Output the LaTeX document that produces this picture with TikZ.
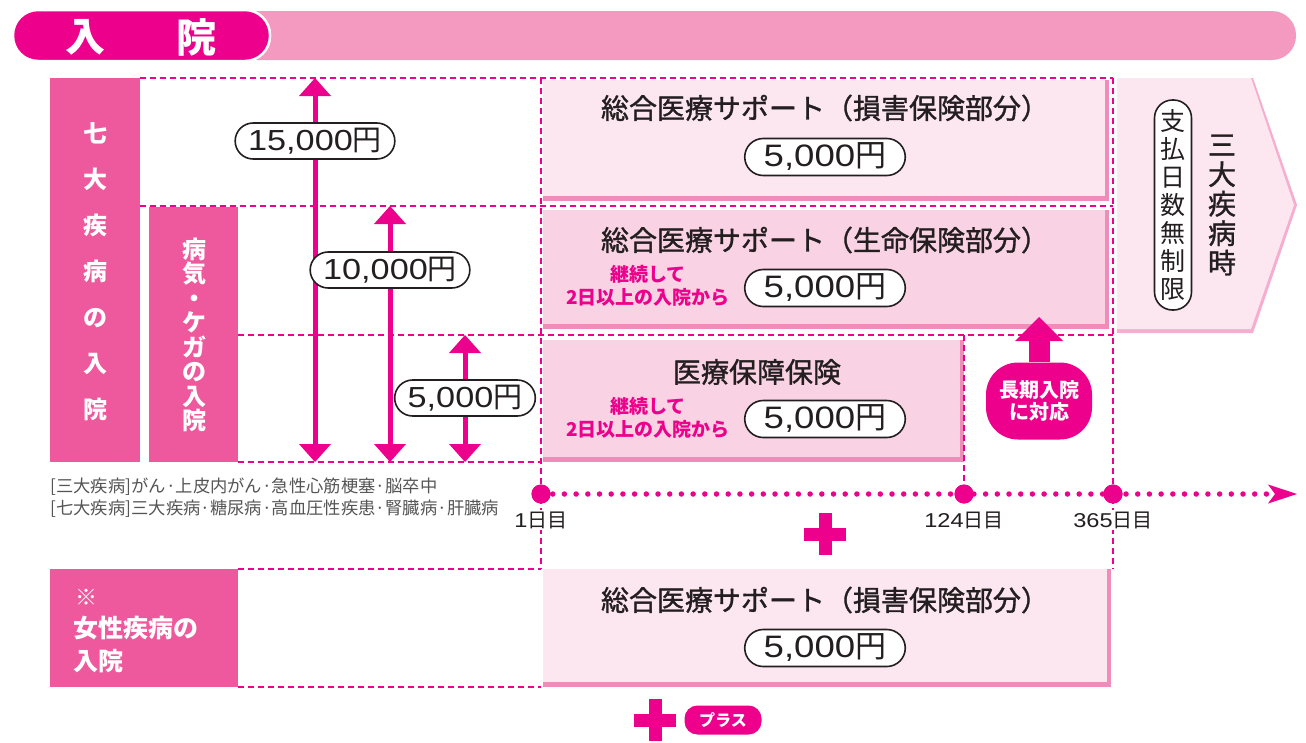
\documentclass[tikz,border=0pt]{standalone}
\usepackage{fontspec}
\setmainfont{Noto Sans CJK JP}
\newfontfamily\midfont[FakeBold=1.2]{Noto Sans CJK JP}
\newfontfamily\yenfont[FakeStretch=1.18]{Liberation Sans}
\usetikzlibrary{arrows.meta}

\definecolor{mag}{RGB}{236,0,140}
\definecolor{hdrpink}{RGB}{244,154,193}
\definecolor{sidepink}{RGB}{238,88,156}
\definecolor{lightbox}{RGB}{252,230,240}
\definecolor{midbox}{RGB}{249,210,227}
\definecolor{shadepink}{RGB}{240,140,186}
\definecolor{ink}{RGB}{35,31,32}
\definecolor{notegray}{RGB}{85,85,85}

\tikzset{
  grid line/.style={mag, line width=1.3pt, dash pattern=on 6pt off 4pt},
  yen/.style={draw=ink, line width=1.6pt, fill=white, rounded corners=18.5pt,
    minimum height=37pt, inner xsep=19pt, inner ysep=0pt, text=ink,
    font=\fontsize{31}{31}\selectfont},
  span yen/.style={yen, inner xsep=13pt, minimum height=36pt, rounded corners=18pt,
    font=\fontsize{29}{29}\selectfont},
  span arrow/.style={mag, line width=5pt,
    {Triangle[width=32pt,length=18pt,line width=0pt]}-{Triangle[width=32pt,length=18pt,line width=0pt]}},
  plan title/.style={text=ink, font=\midfont\fontsize{28}{30}\selectfont},
  cond text/.style={text=mag, align=center, font=\bfseries\fontsize{19}{23}\selectfont},
  side label/.style={text=white, align=center, inner sep=0pt},
  day dot/.style={circle, fill=mag, minimum size=19pt, inner sep=0pt},
  day label/.style={text=ink, fill=white, inner sep=1pt, font=\fontsize{20}{20}\selectfont},
  note line/.style={anchor=west, text=notegray, font=\fontsize{17.3}{17.3}\selectfont},
}

\begin{document}
\begin{tikzpicture}[x=1pt,y=-1pt]
\useasboundingbox (0,0) rectangle (1306,742);

% header
\fill[hdrpink, rounded corners=24pt] (200,11) rectangle (1296,60);
\filldraw[fill=mag, draw=white, line width=2.5pt, rounded corners=25pt] (13,10) rectangle (270,61);
\node[text=white, font=\bfseries\fontsize{40}{40}\selectfont] (hdrin) at (85,37) {入};
\node[text=white, font=\bfseries\fontsize{40}{40}\selectfont] (hdrhosp) at (196,37) {院};

% left labels
\fill[sidepink] (50,78) rectangle (140,462);
\fill[sidepink] (149,207) rectangle (238,462);
\node[side label, font=\bfseries\fontsize{24}{46}\selectfont] (seven) at (95,272) {七\\大\\疾\\病\\の\\入\\院};
\node[side label, font=\bfseries\fontsize{24}{24.5}\selectfont] (sick) at (194,335) {病\\気\\・\\ケ\\ガ\\の\\入\\院};

% plan boxes
\fill[shadepink] (543,80) rectangle (1109,201);
\fill[lightbox] (543,80) rectangle (1105,196);
\fill[shadepink] (543,210) rectangle (1109,329);
\fill[midbox] (543,210) rectangle (1105,324);
\fill[shadepink] (543,340) rectangle (964,462);
\fill[midbox] (543,340) rectangle (960,457);
\fill[shadepink] (543,569) rectangle (1111,687);
\fill[lightbox] (543,569) rectangle (1107,682);

% three big diseases arrow
\fill[shadepink!70!white] (1117,78) -- (1253,78) -- (1297,205) -- (1253,333) -- (1117,333) -- cycle;
\fill[lightbox] (1117,78) -- (1251,78) -- (1294,205) -- (1251,329) -- (1117,329) -- cycle;

% grid
\draw[grid line] (140,78) -- (1113,78);
\draw[grid line] (140,206) -- (1113,206);
\draw[grid line] (238,335) -- (1113,335);
\draw[grid line] (238,462) -- (541,462);
\draw[grid line] (541,78) -- (541,569);
\draw[grid line] (1113,78) -- (1113,569);
\draw[grid line] (964,335) -- (964,494);
\draw[grid line] (238,569) -- (541,569);
\draw[grid line] (238,687) -- (541,687);

% daily amounts
\coordinate (top15) at (315,78);
\coordinate (bot15) at (315,462);
\coordinate (top10) at (390,206);
\coordinate (bot10) at (390,462);
\coordinate (top5) at (465,335);
\coordinate (bot5) at (465,462);
\draw[span arrow] (bot15) -- (top15);
\draw[span arrow] (bot10) -- (top10);
\draw[span arrow] (bot5) -- (top5);
\node[span yen] (yen15) at (315,141) {{\yenfont 15,000}円};
\node[span yen] (yen10) at (390,270) {{\yenfont 10,000}円};
\node[span yen] (yen5) at (465,398) {{\yenfont 5,000}円};

\node[plan title] (supA) at (825,108) {総合医療サポート（損害保険部分）};
\node[yen] (yenA) at (825,157) {{\yenfont 5,000}円};
\node[plan title] (supB) at (825,240) {総合医療サポート（生命保険部分）};
\node[cond text] (condB) at (648,286) {継続して\\2日以上の入院から};
\node[yen] (yenB) at (825,288) {{\yenfont 5,000}円};
\node[plan title] (medC) at (757,372) {医療保障保険};
\node[cond text] (condC) at (648,418) {継続して\\2日以上の入院から};
\node[yen] (yenC) at (825,419) {{\yenfont 5,000}円};

\node[text=ink, align=center, font=\midfont\fontsize{28}{29.5}\selectfont] (sandai) at (1222,205) {三\\大\\疾\\病\\時};
\node[draw=ink, line width=1.6pt, fill=white, rounded corners=18pt, minimum width=37pt,
  minimum height=210pt, inner sep=0pt, align=center, text=ink,
  font=\fontsize{25}{28}\selectfont] (nolimit) at (1173,205) {支\\払\\日\\数\\無\\制\\限};

% long stay
\node[fill=mag, rounded corners=32pt, minimum width=106pt, minimum height=77pt, text=white,
  align=center, font=\bfseries\fontsize{20}{22}\selectfont] (longstay) at (1039,401) {長期入院\\に対応};
\coordinate (bumpB) at (1039,317);
\draw[mag, line width=21pt, -{Triangle[width=48pt,length=24pt,line width=0pt]}] (longstay.north) -- (bumpB);

% timeline
\coordinate (tlend) at (1297,494);
\node[day dot] (d1) at (541,494) {};
\node[day dot] (d124) at (964,494) {};
\node[day dot] (d365) at (1113,494) {};
\draw[mag, line width=5.5pt, line cap=round, dash pattern=on 0pt off 11.7pt,
  -{Stealth[length=29pt,width=19pt,inset=7pt,line width=0pt]}] (d1.center) -- (tlend);
\node[day dot] at (d1) {};
\node[day dot] at (d124) {};
\node[day dot] at (d365) {};
\node[day label] (lab1) at (541,520) {{\yenfont 1}日目};
\node[day label] (lab124) at (964,520) {{\yenfont 124}日目};
\node[day label] (lab365) at (1113,520) {{\yenfont 365}日目};

\node[note line] (note3) at (47,487) {[三大疾病]がん·上皮内がん·急性心筋梗塞·脳卒中};
\node[note line] (note7) at (47,509) {[七大疾病]三大疾病·糖尿病·高血圧性疾患·腎臓病·肝臓病};

% plus
\fill[mag] (804,527.5) rectangle (846,540.5);
\fill[mag] (818.5,513) rectangle (831.5,555);

% female
\fill[sidepink] (50,569) rectangle (238,687);
\node[anchor=west, text=white, font=\bfseries\fontsize{22}{22}\selectfont] (kome) at (72,597) {※};
\node[anchor=west, side label, align=left, font=\bfseries\fontsize{25}{33}\selectfont] (female) at (73,645) {女性疾病の\\入院};
\node[plan title] (supD) at (825,600) {総合医療サポート（損害保険部分）};
\node[yen] (yenD) at (825,648) {{\yenfont 5,000}円};

\fill[mag] (634,713.5) rectangle (676,726.5);
\fill[mag] (648.5,699) rectangle (661.5,741);
\node[fill=mag, rounded corners=13pt, minimum width=77pt, minimum height=29pt, inner sep=0pt,
  text=white, font=\bfseries\fontsize{16}{16}\selectfont] (plustag) at (723,720) {プラス};
\end{tikzpicture}
\end{document}
